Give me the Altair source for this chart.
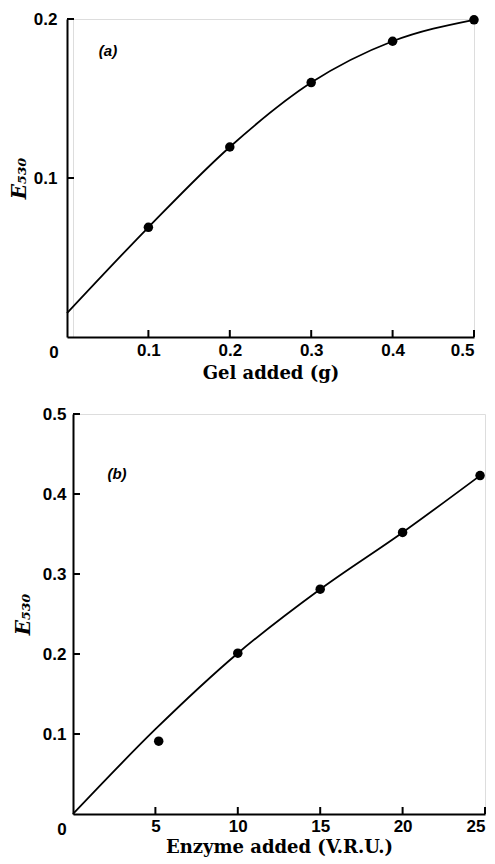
import altair as alt
import pandas as pd

# ---- panel (a): gel added ----
gel_x = [0.1, 0.2, 0.3, 0.4, 0.5]
gel_y = [0.069, 0.1195, 0.160, 0.186, 0.1995]
gel_curve_x = [0.0, 0.1, 0.2, 0.3, 0.4, 0.5]
gel_curve_y = [0.015, 0.069, 0.1195, 0.160, 0.186, 0.1995]
gel_xticks = [0.1, 0.2, 0.3, 0.4, 0.5]
gel_yticks = [0.1, 0.2]

# ---- panel (b): enzyme added ----
enz_x = [5.2, 10.0, 15.0, 20.0, 24.7]
enz_y = [0.091, 0.201, 0.281, 0.352, 0.423]
enz_line_x = [0, 5, 10, 15, 20, 24.7]
enz_line_y = [0, 0.106, 0.201, 0.281, 0.352, 0.423]
enz_xticks = [5, 10, 15, 20, 25]
enz_yticks = [0.1, 0.2, 0.3, 0.4, 0.5]

LABEL_FONT = "Liberation Sans"
TITLE_FONT = "DejaVu Serif"


def panel(px, py, cx, cy, xt, yt, xdom, ydom, xtitle, xfmt, yfmt,
          label, lab_x, lab_y, w, h, shift, ylab_pad, ytitle_pad,
          xlab_pad, xtitle_pad, zdx, zdy):
    xs = alt.Scale(domain=xdom, nice=False, zero=False, range=[-shift, w])
    ys = alt.Scale(domain=ydom, nice=False, zero=False)
    xaxis = alt.Axis(values=xt, format=xfmt, title=xtitle, ticks=False,
                     labelPadding=xlab_pad, domainWidth=2, domainColor="black",
                     grid=False, labelFont=LABEL_FONT, labelFontWeight="bold",
                     labelFontSize=17, labelColor="black",
                     titleFont=TITLE_FONT, titleFontWeight="bold",
                     titleFontSize=18, titleColor="black",
                     titlePadding=xtitle_pad)
    yaxis = alt.Axis(values=yt, format=yfmt, title="E₅₃₀", ticks=False,
                     offset=shift,
                     labelPadding=ylab_pad, domainWidth=2, domainColor="black",
                     grid=False, labelFont=LABEL_FONT, labelFontWeight="bold",
                     labelFontSize=17, labelColor="black",
                     titleFont=TITLE_FONT, titleFontWeight="bold",
                     titleFontStyle="italic", titleFontSize=20,
                     titleColor="black", titlePadding=ytitle_pad)
    df_c = pd.DataFrame({"x": cx, "y": cy})
    df_p = pd.DataFrame({"x": px, "y": py})
    df_xt = pd.DataFrame({"v": xt})
    df_yt = pd.DataFrame({"v": yt})

    curve = alt.Chart(df_c).mark_line(color="black", strokeWidth=1.8,
                                      interpolate="monotone").encode(
        x=alt.X("x:Q", scale=xs, axis=xaxis),
        y=alt.Y("y:Q", scale=ys, axis=yaxis))
    pts = alt.Chart(df_p).mark_circle(size=90, color="black", opacity=1).encode(
        x="x:Q", y="y:Q")
    ytk = alt.Chart(df_yt).mark_rule(color="black", strokeWidth=2).encode(
        x=alt.value(-shift), x2=alt.value(-shift + 7), y="v:Q")
    xtk = alt.Chart(df_xt).mark_rule(color="black", strokeWidth=2).encode(
        x="v:Q", y=alt.value(h), y2=alt.value(h - 7))
    zero = alt.Chart(df_xt.head(1)).mark_text(
        text="0", font=LABEL_FONT, fontWeight="bold", fontSize=17,
        color="black", dx=zdx, dy=zdy).encode(
        x=alt.datum(xdom[0]), y=alt.datum(ydom[0]))
    lab = alt.Chart(df_xt.head(1)).mark_text(
        text=label, font=LABEL_FONT, fontWeight="bold", fontStyle="italic",
        fontSize=15, color="black").encode(
        x=alt.value(lab_x), y=alt.value(lab_y))
    return alt.layer(curve, pts, ytk, xtk, zero, lab).properties(
        width=w, height=h)


top = panel(gel_x, gel_y, gel_curve_x, gel_curve_y, gel_xticks, gel_yticks,
            [0, 0.5], [0, 0.2], "Gel added (g)", ".1f", ".1f",
            "(a)", 35, 32, 401, 318, 6, 10, 4, 5, 6, -13, 16)
bottom = panel(enz_x, enz_y, enz_line_x, enz_line_y, enz_xticks, enz_yticks,
               [0, 25], [0, 0.5], "Enzyme added (V.R.U.)", "d", ".1f",
               "(b)", 44, 60, 412, 400, 0, 7, 9, 4, 4, -11, 16)

chart = alt.vconcat(top, bottom, spacing=21).properties(
    padding={"left": 0, "top": 1, "right": 0, "bottom": 0}
).configure_view(stroke=None).configure(background="white")

chart.save("out.html", embed_options={"renderer": "svg", "actions": False})
